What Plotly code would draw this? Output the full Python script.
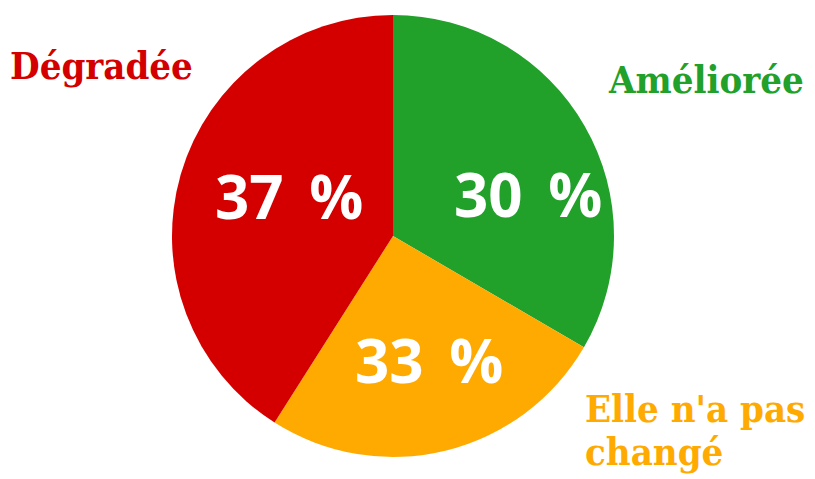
import plotly.graph_objects as go

categories = ["Améliorée", "Elle n'a pas changé", "Dégradée"]
slice_values = [33.4, 25.6, 41.0]
pct_texts = ["30 %", "33 %", "37 %"]
colors = ["#21A02A", "#FFAA00", "#D40000"]
label_lines = [["Améliorée"], ["Elle n'a pas", "changé"], ["Dégradée"]]

W, H = 815, 479
fig = go.Figure(go.Pie(
    labels=categories, values=slice_values, sort=False,
    direction="clockwise", rotation=0,
    marker=dict(colors=colors, line=dict(width=0)),
    textinfo="none", hoverinfo="label+percent", showlegend=False,
    domain=dict(x=[164 / W, 606 / W], y=[(H - 449) / H, (H - 7) / H]),
))

PFONT = "Open Sans"
LFONT = "DejaVu Serif Condensed"
pct_pos = [(520, 186), (421, 352), (281, 188)]
ann = []
for t, (px, py) in zip(pct_texts, pct_pos):
    ann.append(dict(x=px / W, y=1 - py / H, xref="paper", yref="paper",
                    text=t.replace(" ", "\u2009 "), showarrow=False, xanchor="center", yanchor="middle",
                    font=dict(family=PFONT, size=60, color="white", weight="bold")))

lab_pos = [[(598, 71)], [(575, 400), (575, 443)], [(0, 57)]]
for lines, c, poss in zip(label_lines, colors, lab_pos):
    for t, (px, py) in zip(lines, poss):
        ann.append(dict(x=px / W, y=1 - py / H, xref="paper", yref="paper",
                        text=t, showarrow=False, xanchor="left", yanchor="middle", align="left",
                        font=dict(family=LFONT, size=38, color=c, weight="bold")))

fig.update_layout(width=W, height=H, margin=dict(l=0, r=0, t=0, b=0),
                  paper_bgcolor="white", plot_bgcolor="white", annotations=ann)
fig.write_html("out.html")
